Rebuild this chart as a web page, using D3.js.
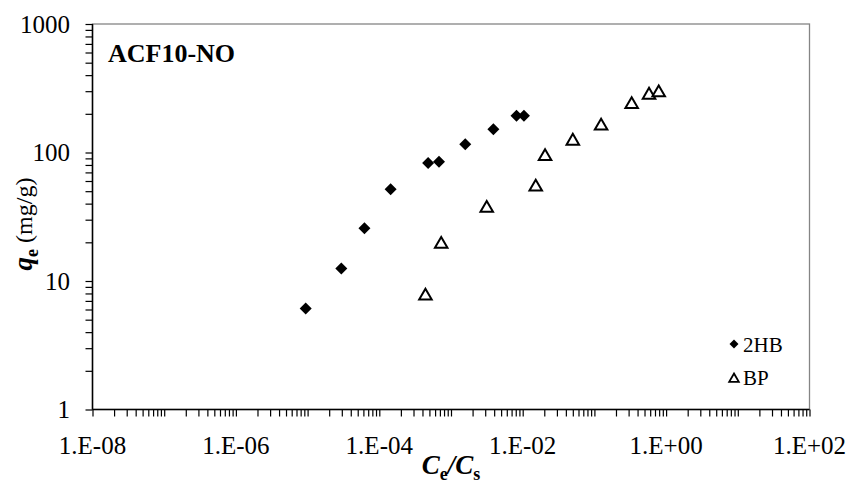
<!DOCTYPE html>
<html><head><meta charset="utf-8">
<script src="https://cdn.jsdelivr.net/npm/d3@7"></script>
<style>body{margin:0;background:#fff}svg{display:block}text{font-family:"Liberation Serif","Times New Roman",serif}</style>
</head><body>
<svg id="c" width="853" height="485"></svg>
<script>
const seriesNames = ["2HB", "BP"];
const hbX = [9.4e-6, 2.95e-5, 6.2e-5, 1.44e-4, 4.8e-4, 6.8e-4, 1.58e-3, 3.9e-3, 8.2e-3, 1.04e-2];
const hbY = [6.1, 12.5, 25.7, 51.7, 82.8, 84.8, 116, 152, 193, 193];
const bpX = [4.4e-4, 7.3e-4, 3.15e-3, 1.52e-2, 2.05e-2, 5.0e-2, 0.124, 0.331, 0.578, 0.789];
const bpY = [7.8, 19.7, 37.5, 54.9, 95, 125, 164, 241, 285, 297];
const xTickLabels = ["1.E-08","1.E-06","1.E-04","1.E-02","1.E+00","1.E+02"];
const yTickLabels = ["1","10","100","1000"];
const panelLabel = "ACF10-NO";

const svg = d3.select("#c");
const L = 92.5, R = 809.5, T = 24, B = 409.5;
const x = d3.scaleLog().domain([1e-8, 1e2]).range([L, R]);
const y = d3.scaleLog().domain([1, 1000]).range([B, T]);

// plot border
svg.append("rect").attr("x", L).attr("y", T).attr("width", R - L).attr("height", B - T)
  .attr("fill", "none").attr("stroke", "#858585").attr("stroke-width", 1.3);

// ticks
const xTicks = [];
for (let e = -8; e < 2; e++) for (let m = 1; m < 10; m++) xTicks.push(m * Math.pow(10, e));
xTicks.push(1e2);
const yTicks = [];
for (let e = 0; e < 3; e++) for (let m = 1; m < 10; m++) yTicks.push(m * Math.pow(10, e));
yTicks.push(1000);

const xAxis = d3.axisBottom(x).tickValues(xTicks).tickSize(7).tickFormat("");
const gx = svg.append("g").attr("transform", `translate(0,${B})`).call(xAxis);
gx.select(".domain").attr("stroke", "#000").attr("stroke-width", 1.5).attr("d", `M${L},0H${R}`);
gx.selectAll(".tick line").attr("stroke", "#000").attr("stroke-width", 1.2);

const yAxis = d3.axisLeft(y).tickValues(yTicks).tickSize(7).tickFormat("");
const gy = svg.append("g").attr("transform", `translate(${L},0)`).call(yAxis);
gy.select(".domain").attr("stroke", "#000").attr("stroke-width", 1.5).attr("d", `M0,${T}V${B}`);
gy.selectAll(".tick line").attr("stroke", "#000").attr("stroke-width", 1.2);

// tick labels
xTickLabels.forEach((t, i) => {
  const v = Math.pow(10, -8 + 2 * i);
  svg.append("text").attr("x", x(v)).attr("y", 454).attr("text-anchor", "middle")
    .attr("font-size", 25).attr("fill", "#000").text(t);
});
yTickLabels.forEach((t, i) => {
  const v = Math.pow(10, i);
  svg.append("text").attr("x", 70).attr("y", y(v) + 8.5).attr("text-anchor", "end")
    .attr("font-size", 25).attr("fill", "#000").text(t);
});

// axis titles
const xt = svg.append("text").attr("x", 451).attr("y", 474).attr("text-anchor", "middle")
  .attr("font-size", 27).attr("font-weight", "bold").attr("fill", "#000");
xt.append("tspan").attr("font-style", "italic").text("C");
xt.append("tspan").attr("font-size", 18).attr("dy", 6).text("e");
xt.append("tspan").attr("font-style", "italic").attr("dy", -6).text("/C");
xt.append("tspan").attr("font-size", 18).attr("dy", 6).text("s");

const yt = svg.append("text").attr("transform", "translate(32,224) rotate(-90)")
  .attr("text-anchor", "middle").attr("font-size", 24).attr("fill", "#000");
yt.append("tspan").attr("font-style", "italic").attr("font-weight", "bold").attr("font-size", 27).text("q");
yt.append("tspan").attr("font-weight", "bold").attr("font-size", 18).attr("dy", 6).text("e");
yt.append("tspan").attr("dy", -6).text(" (mg/g)");

// panel label
svg.append("text").attr("x", 108).attr("y", 62).attr("font-size", 26).attr("font-weight", "bold")
  .attr("fill", "#000").text(panelLabel);

// markers
const diamond = d3.symbol().type(d3.symbolSquare).size(72);
svg.append("g").selectAll("path").data(hbX.map((v, i) => [v, hbY[i]])).join("path")
  .attr("d", diamond())
  .attr("transform", d => `translate(${x(d[0])},${y(d[1])}) rotate(45)`)
  .attr("fill", "#000");

const tri = d3.symbol().type(d3.symbolTriangle).size(68);
svg.append("g").selectAll("path").data(bpX.map((v, i) => [v, bpY[i]])).join("path")
  .attr("d", tri())
  .attr("transform", d => `translate(${x(d[0])},${y(d[1]) + 1})`)
  .attr("fill", "#fff").attr("stroke", "#000").attr("stroke-width", 2);

// legend
svg.append("path").attr("d", d3.symbol().type(d3.symbolSquare).size(40)())
  .attr("transform", "translate(734,344) rotate(45)").attr("fill", "#000");
svg.append("text").attr("x", 743).attr("y", 352).attr("font-size", 21).attr("fill", "#000").text(seriesNames[0]);
svg.append("path").attr("d", d3.symbol().type(d3.symbolTriangle).size(40)())
  .attr("transform", "translate(734,379)").attr("fill", "#fff").attr("stroke", "#000").attr("stroke-width", 1.8);
svg.append("text").attr("x", 743).attr("y", 385).attr("font-size", 21).attr("fill", "#000").text(seriesNames[1]);
</script>
</body></html>
